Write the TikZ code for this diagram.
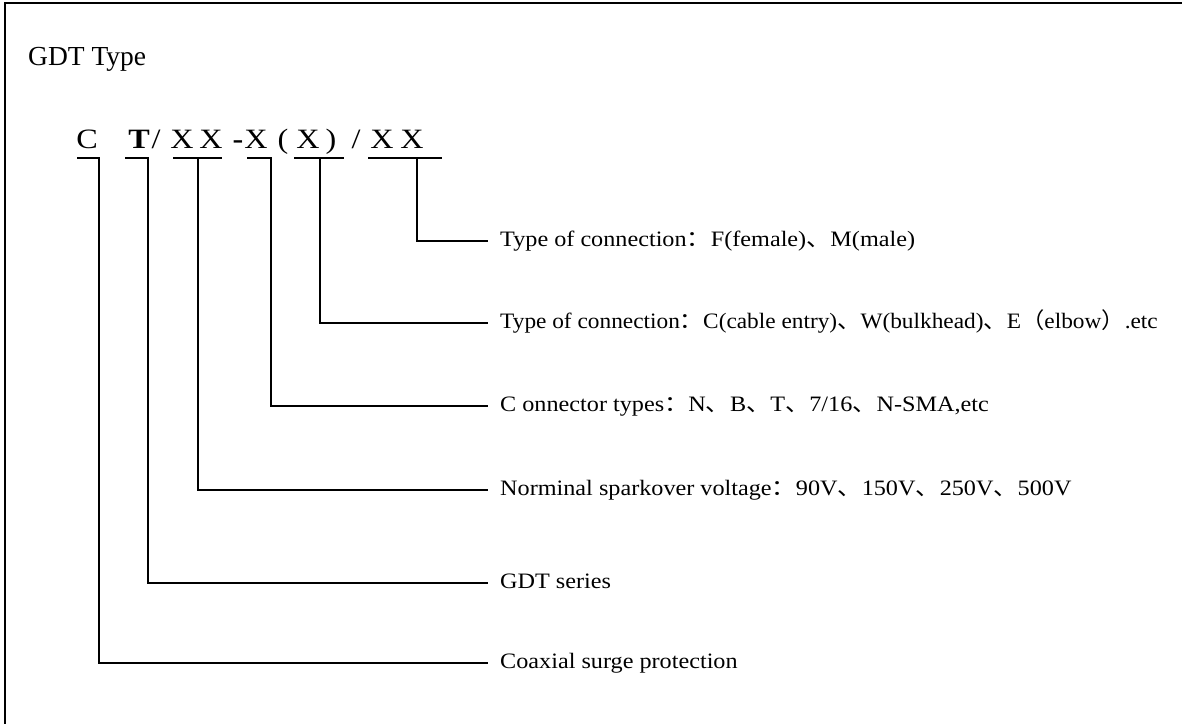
\documentclass[tikz,border=0pt]{standalone}
\usepackage{fontspec}
\usepackage{graphicx}
\setmainfont{Liberation Serif}
\newfontfamily\cjk{Noto Sans CJK SC}
\newcommand\zcolon{{\cjk ：}}
\newcommand\zcomma{{\cjk 、}}
\newcommand\zlp{{\cjk （}}
\newcommand\zrp{{\cjk ）}}
\newcommand\lbltext[1]{\scalebox{1.1}[1]{#1}}
\newcommand\lbltextn[1]{\scalebox{1.06}[1]{#1}}
\newcommand\codetext[1]{\scalebox{1.15}[1]{#1}}
\tikzset{
  conn/.style={line width=1.4pt, black},
  frame/.style={line width=2.6pt, black},
  codech/.style={anchor=base, inner sep=0pt, font=\fontsize{28}{30}\selectfont},
  lbl/.style={anchor=base west, inner sep=0pt, font=\fontsize{22}{26}\selectfont},
  ttl/.style={anchor=base west, inner sep=0pt, font=\fontsize{27.5}{30}\selectfont}
}
\begin{document}
\begin{tikzpicture}[x=1pt,y=-1pt]
\useasboundingbox[fill=white] (0,0) rectangle (1182,724);
% frame (top and left only)
\coordinate (fa) at (1182,3);
\coordinate (fb) at (5,3);
\coordinate (fc) at (5,724);
\draw[frame] (fa) -- (fb) -- (fc);
% title
\node[ttl] (title) at (28,65) {GDT Type};
% code characters
\node[codech] (c1) at (87,148) {\codetext{C}};
\node[codech] (c2) at (139,148) {\codetext{\textbf{T}}};
\node[codech] (c3) at (156,148) {\codetext{/}};
\node[codech] (c4) at (182,148) {\codetext{X}};
\node[codech] (c5) at (211,148) {\codetext{X}};
\node[codech] (c6) at (238,148) {\codetext{\textbf{-}}};
\node[codech] (c7) at (256,148) {\codetext{X}};
\node[codech] (c8) at (283,148) {\codetext{(}};
\node[codech] (c9) at (308,148) {\codetext{X}};
\node[codech] (c10) at (331,148) {\codetext{)}};
\node[codech] (c11) at (356,148) {\codetext{/}};
\node[codech] (c12) at (382,148) {\codetext{X}};
\node[codech] (c13) at (412,148) {\codetext{X}};
% underline coordinates
\coordinate (u1a) at (77,158);  \coordinate (u1b) at (99,158);
\coordinate (u2a) at (125,158); \coordinate (u2b) at (148,158);
\coordinate (u3a) at (173,158); \coordinate (u3b) at (222,158); \coordinate (u3m) at (198,158);
\coordinate (u4a) at (247,158); \coordinate (u4b) at (271,158);
\coordinate (u5a) at (294,158); \coordinate (u5b) at (344,158); \coordinate (u5m) at (320,158);
\coordinate (u6a) at (368,158); \coordinate (u6b) at (442,158); \coordinate (u6m) at (417,158);
% line ends
\coordinate (e1) at (488,241);
\coordinate (e2) at (488,323);
\coordinate (e3) at (488,406);
\coordinate (e4) at (488,490);
\coordinate (e5) at (488,583);
\coordinate (e6) at (488,663);
% labels
\node[lbl] (l1) at (500,246) {\lbltext{Type of connection\zcolon{}F(female)\zcomma{}M(male)}};
\node[lbl] (l2) at (500,328) {\lbltextn{Type of connection\zcolon{}C(cable entry)\zcomma{}W(bulkhead)\zcomma{}E\zlp{}elbow\zrp{}.etc}};
\node[lbl] (l3) at (500,411) {\lbltext{C onnector types\zcolon{}N\zcomma{}B\zcomma{}T\zcomma{}7/16\zcomma{}N-SMA,etc}};
\node[lbl] (l4) at (500,495) {\lbltext{Norminal sparkover voltage\zcolon{}90V\zcomma{}150V\zcomma{}250V\zcomma{}500V}};
\node[lbl] (l5) at (500,588) {\lbltext{GDT series}};
\node[lbl] (l6) at (500,668) {\lbltext{Coaxial surge protection}};
% connectors
\draw[conn] (u1a) -- (u1b) -- (u1b |- e6) -- (e6);
\draw[conn] (u2a) -- (u2b) -- (u2b |- e5) -- (e5);
\draw[conn] (u3a) -- (u3b);
\draw[conn] (u3m) |- (e4);
\draw[conn] (u4a) -- (u4b) -- (u4b |- e3) -- (e3);
\draw[conn] (u5a) -- (u5b);
\draw[conn] (u5m) |- (e2);
\draw[conn] (u6a) -- (u6b);
\draw[conn] (u6m) |- (e1);
\end{tikzpicture}
\end{document}
